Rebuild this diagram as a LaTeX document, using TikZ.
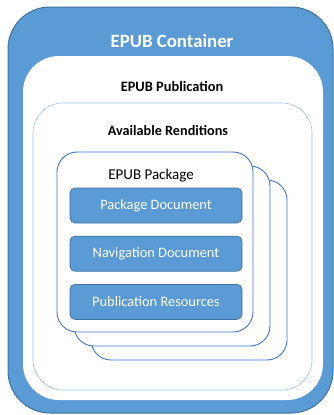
\documentclass[tikz,border=0pt]{standalone}
\usepackage{fontspec}
\setmainfont{Carlito}
\usetikzlibrary{positioning}
\definecolor{epubblue}{HTML}{5B9BD5}
\definecolor{epubedge}{HTML}{41719C}
\definecolor{pkgedge}{HTML}{4472C4}
\definecolor{rendedge}{HTML}{9DC3E6}

\begin{document}
\begin{tikzpicture}[x=1pt,y=-1pt,node distance=12.5pt]
\tikzstyle{layer}=[rectangle,inner sep=0pt]
\tikzstyle{pkgbox}=[layer,draw=pkgedge,fill=white,line width=0.9pt,rounded corners=20pt,minimum width=196pt,minimum height=180pt]
\tikzstyle{part}=[layer,draw=epubedge,fill=epubblue,line width=0.7pt,rounded corners=5pt,minimum width=172pt,minimum height=35pt,text=white,font=\fontsize{14.4}{16}\selectfont]
\useasboundingbox (0,0) rectangle (334,415);
% nested layers
\node[layer,draw=epubedge,fill=epubblue,line width=1pt,rounded corners=42pt,minimum width=325pt,minimum height=406pt] (container) at (170.5,210) {};
\node[layer,fill=white,rounded corners=36pt,minimum width=300pt,minimum height=344pt] (publication) at (173,228) {};
\node[layer,draw=rendedge,line width=0.6pt,rounded corners=30pt,minimum width=279pt,minimum height=287pt] (renditions) at (172.5,246.5) {};
% stacked packages
\node[pkgbox] (pkg3) at (189,270) {};
\node[pkgbox] (pkg2) at (172,256) {};
\node[pkgbox] (pkg1) at (155,242) {};
% titles
\node[text=white,font=\fontsize{18.8}{22}\selectfont\bfseries] (containerlabel) at (172,41) {EPUB Container};
\node[font=\fontsize{14.4}{17}\selectfont\bfseries] (publicationlabel) at (172,86) {EPUB Publication};
\node[font=\fontsize{14.2}{17}\selectfont\bfseries] (renditionslabel) at (168,131) {Available Renditions};
\node[font=\fontsize{15}{17}\selectfont] (pkglabel) at (151,176) {EPUB Package};
% package parts
\node[part] (pkgdoc) at (156,205.5) {Package Document};
\node[part][below=of pkgdoc] (navdoc) {Navigation Document};
\node[part][below=of navdoc] (resources) {Publication Resources};
\end{tikzpicture}
\end{document}
